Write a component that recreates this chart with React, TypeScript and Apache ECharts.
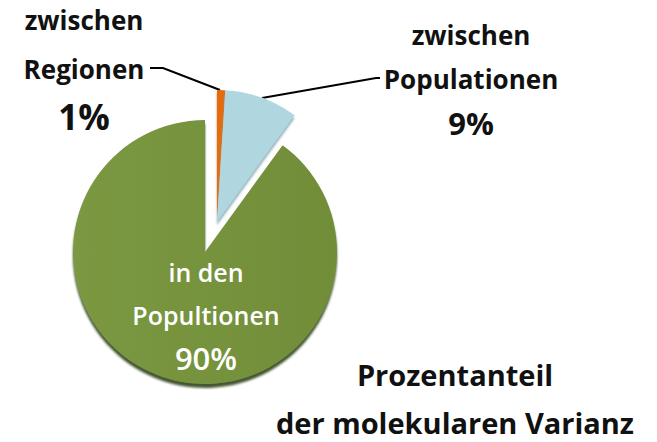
import React, { useEffect, useRef } from "react";
import * as echarts from "echarts";

const categories = ["zwischen Regionen", "zwischen Populationen", "in den Popultionen"];
const values = [1, 9, 90];
const percentLabels = ["1%", "9%", "90%"];
const colors = ["#E46C0A", "#B0D6E0", "#77933C"];
const titleLines = ["Prozentanteil", "der molekularen Varianz"];

const FONT = "'Open Sans', 'DejaVu Sans', sans-serif";

export default function App() {
  const ref = useRef<HTMLDivElement>(null);
  useEffect(() => {
    if (!ref.current) return;
    const chart = echarts.init(ref.current, undefined, { renderer: "svg" });

    const greenData = categories.map((name, i) => ({
      name,
      value: values[i],
      itemStyle:
        i === 2
          ? {
              color: new echarts.graphic.LinearGradient(0, 0, 1, 0, [
                { offset: 0, color: "#7B9842" },
                { offset: 1, color: "#718D38" },
              ]),
              shadowColor: "rgba(40,55,15,0.85)",
              shadowOffsetY: 4,
              shadowBlur: 2,
            }
          : { color: "rgba(0,0,0,0)" },
      label:
        i === 2
          ? {
              show: true,
              position: "inside",
              formatter: () =>
                `{a|in den}\n{a|Popultionen}\n{b|${percentLabels[2]}}`,
              rich: {
                a: { fontFamily: FONT, fontWeight: 600, fontSize: 25, color: "#fff", lineHeight: 43 },
                b: { fontFamily: FONT, fontWeight: 600, fontSize: 31, color: "#fff", lineHeight: 43 },
              },
            }
          : { show: false },
      labelLine: { show: false },
    }));

    const explodedData = categories.map((name, i) => ({
      name,
      value: values[i],
      itemStyle:
        i === 2
          ? { color: "rgba(0,0,0,0)" }
          : {
              color: colors[i],
              shadowColor: i === 1 ? "rgba(120,160,170,0.8)" : "rgba(150,60,0,0.6)",
              shadowOffsetY: 3,
              shadowBlur: 2,
            },
      label:
        i === 0
          ? {
              show: true,
              position: "outside",
              formatter: () => `{c|zwischen}\n{d|Regionen}\n{b|${percentLabels[0]}}`,
              rich: {
                c: { fontFamily: FONT, fontWeight: 700, fontSize: 26, color: "#111", lineHeight: 40 },
                d: { fontFamily: FONT, fontWeight: 700, fontSize: 26, color: "#111", lineHeight: 58 },
                b: { fontFamily: FONT, fontWeight: 700, fontSize: 35, color: "#111", lineHeight: 36 },
              },
            }
          : i === 1
          ? {
              show: true,
              position: "outside",
              formatter: () => `{a|zwischen}\n{a|Populationen}\n{b|${percentLabels[1]}}`,
              rich: {
                a: { fontFamily: FONT, fontWeight: 700, fontSize: 26, color: "#111", lineHeight: 44 },
                b: { fontFamily: FONT, fontWeight: 700, fontSize: 31, color: "#111", lineHeight: 44 },
              },
            }
          : { show: false },
      labelLine: i === 2 ? { show: false } : { show: true, lineStyle: { color: "#000", width: 2 } },
    }));

    chart.setOption({
      animation: false,
      backgroundColor: "#fff",
      series: [
        {
          type: "pie",
          center: [205, 252],
          radius: 132,
          startAngle: 90,
          clockwise: true,
          silent: true,
          data: greenData,
          labelLayout: (p: any) =>
            p.dataIndex === 2
              ? { x: 206, y: 315, align: "center", verticalAlign: "middle" }
              : {},
        },
        {
          type: "pie",
          center: [217, 222],
          radius: 132,
          startAngle: 90,
          clockwise: true,
          silent: true,
          data: explodedData,
          labelLayout: (p: any) => {
            if (p.dataIndex === 0)
              return {
                x: 84,
                y: 67,
                align: "center",
                verticalAlign: "middle",
                labelLinePoints: [
                  [220, 90],
                  [163, 68],
                  [150, 68],
                ],
              };
            if (p.dataIndex === 1)
              return {
                x: 471,
                y: 79,
                align: "center",
                verticalAlign: "middle",
                labelLinePoints: [
                  [262, 98],
                  [376, 78],
                  [380, 78],
                ],
              };
            return {};
          },
        },
      ],
      graphic: titleLines.map((t, i) => ({
        type: "text",
        x: 455,
        y: i === 0 ? 374 : 422,
        style: {
          text: t,
          font: `bold 29px ${FONT}`,
          fill: "#111",
          align: "center",
          verticalAlign: "middle",
          lineHeight: 28,
        },
      })),
    });
    return () => chart.dispose();
  }, []);
  return (
    <div
      ref={ref}
      style={{ position: "fixed", left: 0, top: 0, width: 657, height: 442 }}
    />
  );
}
